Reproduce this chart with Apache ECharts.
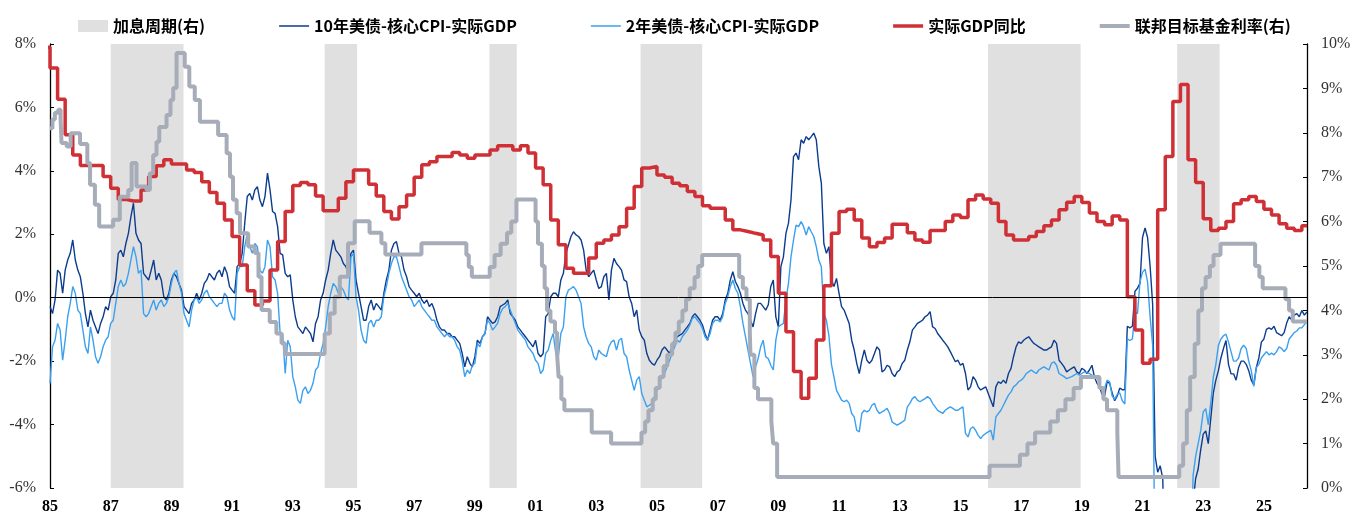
<!DOCTYPE html>
<html>
<head>
<meta charset="utf-8">
<script src="https://cdn.jsdelivr.net/npm/echarts/dist/echarts.min.js"></script>
<style>
html, body { margin: 0; padding: 0; background: #fff; }
#main { width: 1367px; height: 522px; }
</style>
</head>
<body>
<div id="main"></div>
<script>
// ---- data ----
// monthly spreads, first point = Jan 1985
var monthStart = 1985;
var tenYear = [
 -0.28,-0.5,-0.07,0.87,0.77,0.14,0.87,1.19,1.4,1.82,
 1.19,0.87,0.66,0.14,-0.5,-0.92,-0.39,-0.71,-0.92,-1.13,
 -0.81,-0.6,-0.28,-0.39,0.03,0.14,0.56,1.4,1.5,1.29,
 1.71,2.03,2.56,2.98,2.03,1.82,1.71,0.77,0.66,0.56,
 0.87,1.19,0.56,0.77,0.56,0.03,-0.07,0.14,0.56,0.77,
 0.66,0.45,0.24,-0.28,-0.39,-0.5,-0.18,-0.07,0.14,-0.07,
 0.14,0.45,0.56,0.77,0.66,0.56,0.77,0.87,0.66,0.98,
 0.77,0.35,0.24,0.14,0.98,1.08,1.4,2.35,3.19,3.29,
 3.08,3.4,3.5,3.08,2.87,3.19,3.93,3.4,2.72,2.66,
 2.24,1.4,1.35,0.77,0.66,0.72,-0.07,-0.6,-0.92,-1.02,
 -1.13,-0.92,-1.02,-1.13,-1.39,-0.81,-0.6,-0.07,0.14,0.56,
 0.87,1.4,1.82,1.5,1.4,1.29,1.08,0.98,0.77,1.4,
 1.5,0.56,0.14,-0.28,-0.71,-0.71,-0.28,-0.07,-0.39,-0.18,
 -0.28,-0.39,0.14,0.56,0.87,1.5,1.71,1.77,1.4,1.29,
 0.87,0.66,0.35,0.24,0.14,0.03,0.14,-0.07,-0.18,-0.07,
 -0.28,-0.18,-0.39,-0.71,-0.92,-1.02,-1.02,-1.13,-1.13,-1.23,
 -1.23,-1.34,-1.44,-1.76,-2.18,-1.86,-2.07,-2.18,-1.86,-1.34,
 -1.44,-1.23,-1.13,-0.6,-0.71,-0.81,-0.76,-0.6,-0.28,-0.23,
 -0.18,-0.07,-0.5,-0.6,-0.71,-0.92,-1.02,-1.13,-1.23,-1.34,
 -1.44,-1.55,-1.34,-1.76,-1.86,-1.76,-0.6,-0.5,0.03,0.14,
 0.14,0.03,0.56,0.77,1.4,1.66,1.93,2.08,1.98,1.93,
 1.82,1.5,0.87,0.66,0.77,0.87,0.56,0.29,0.35,0.66,
 0.77,-0.07,0.87,1.24,1.08,0.98,0.87,0.56,0.51,0.03,
 -0.18,-0.6,-0.39,-1.02,-1.23,-1.34,-1.76,-1.97,-2.07,-2.13,
 -1.97,-1.86,-1.65,-1.55,-1.65,-1.76,-1.55,-1.34,-1.23,-1.18,
 -1.13,-1.02,-0.92,-0.81,-0.6,-0.5,-0.6,-0.71,-0.86,-1.13,
 -1.34,-1.02,-0.71,-0.6,-0.6,-0.71,-0.5,-0.07,0.14,0.56,
 0.82,0.51,0.35,0.14,-0.18,-0.39,-0.5,-0.71,-0.92,-0.5,
 -0.18,-0.18,-0.28,-0.39,-0.23,0.35,0.56,-0.6,-0.92,0.98,
 1.29,2.03,2.35,3.08,4.45,4.56,4.35,4.98,4.87,5.08,
 4.98,5.08,5.19,4.98,4.14,3.61,1.71,1.4,1.61,0.56,
 0.35,0.61,0.14,-0.28,-0.39,-0.6,-0.81,-1.34,-1.65,-2.07,
 -2.39,-1.97,-1.65,-1.97,-2.07,-1.97,-1.76,-1.55,-1.65,-2.34,
 -2.28,-2.13,-2.18,-2.39,-2.49,-2.34,-2.28,-2.07,-1.97,-1.65,
 -1.39,-1.02,-0.92,-0.81,-0.76,-0.71,-0.6,-0.55,-0.44,-0.92,
 -0.97,-1.13,-1.23,-1.34,-1.44,-1.55,-1.7,-1.86,-2.02,-1.97,
 -2.13,-2.07,-2.39,-2.91,-2.81,-2.49,-2.6,-2.81,-2.91,-2.86,
 -2.81,-3.02,-3.23,-3.44,-2.81,-2.65,-2.7,-2.6,-2.7,-2.39,
 -2.23,-1.86,-1.55,-1.39,-1.44,-1.34,-1.28,-1.23,-1.34,-1.44,
 -1.49,-1.55,-1.6,-1.65,-1.65,-1.6,-1.55,-1.34,-1.44,-1.97,
 -2.07,-2.18,-2.34,-2.28,-2.23,-2.18,-2.34,-2.39,-2.23,-2.28,
 -2.39,-2.28,-2.13,-2.5,-2.7,-2.8,-3.05,-3.1,-2.65,-2.7,
 -3.0,-3.25,-3.1,-2.85,-2.9,-2.9,-0.9,-0.95,-0.9,0.2,
 0.3,0.45,1.9,2.2,1.9,1.0,-0.2,-5.0,-5.5,-5.3,
 -5.7,-9,-9,-9,-9,-9,-9,-9,-9,-9,
 -9,-9,-6.5,-5.7,-5.4,-4.8,-4.3,-4.2,-4.6,-3.8,
 -3.0,-2.6,-2.3,-1.9,-1.6,-1.35,-2.1,-2.4,-2.4,-2.6,
 -2.2,-2.0,-2.0,-2.1,-2.3,-2.6,-2.75,-2.2,-1.9,-1.4,
 -1.3,-1.0,-0.95,-1.0,-0.9,-1.1,-1.15,-1.2,-1.1,-0.8,
 -0.6,-0.7,-0.55,-0.5,-0.6,-0.4,-0.55,-0.45
];
var twoYear = [
 -2.7,-1.55,-1.34,-0.81,-1.02,-1.97,-1.34,-0.6,-0.18,0.35,
 0.14,-0.39,-0.5,-1.02,-1.55,-1.76,-0.92,-1.34,-1.86,-2.07,
 -1.86,-1.55,-1.34,-1.23,-0.81,-0.71,-0.18,0.35,0.56,0.35,
 0.45,0.77,1.19,1.61,1.29,0.77,0.87,-0.5,-0.6,-0.5,
 -0.28,-0.07,-0.39,-0.18,-0.07,-0.28,-0.18,0.03,0.45,0.77,
 0.87,0.45,0.14,-0.5,-0.71,-0.92,-0.39,-0.07,0.03,-0.18,
 -0.07,0.14,0.24,0.03,-0.07,-0.18,-0.28,-0.18,-0.18,0.14,
 0.03,-0.39,-0.6,-0.71,0.77,0.98,0.98,1.61,2.03,1.61,
 1.4,1.71,1.61,0.87,0.77,0.98,1.82,1.61,0.66,0.56,
 0.14,-1.13,-1.13,-2.39,-1.34,-1.55,-2.49,-2.81,-3.23,-3.33,
 -2.92,-2.81,-3.02,-2.92,-2.7,-2.28,-2.18,-1.76,-1.44,-0.92,
 -0.28,0.14,0.45,0.35,0.14,0.35,0.24,0.03,-0.07,1.29,
 1.4,0.03,-0.39,-1.02,-1.34,-1.44,-0.81,-0.71,-0.92,-0.71,
 -0.71,-0.6,0.03,0.35,0.77,1.08,1.29,1.29,0.98,0.66,
 0.45,0.24,0.03,-0.07,-0.28,-0.18,-0.07,-0.28,-0.39,-0.5,
 -0.6,-0.71,-0.71,-0.92,-1.02,-1.13,-1.23,-1.13,-1.23,-1.23,
 -1.34,-1.55,-1.65,-2.0,-2.49,-2.28,-2.39,-2.13,-2.07,-1.44,
 -1.55,-1.23,-1.13,-0.71,-0.81,-1.02,-0.92,-0.81,-0.5,-0.34,
 -0.28,-0.18,-0.39,-0.6,-0.81,-1.02,-1.13,-1.23,-1.34,-1.55,
 -1.65,-1.76,-1.97,-2.07,-2.39,-2.28,-1.76,-1.65,-1.34,-1.13,
 -1.76,-1.86,-1.13,-0.92,0.03,0.24,0.29,0.35,0.24,0.03,
 -0.18,-0.92,-1.23,-1.44,-1.55,-1.86,-1.97,-1.65,-1.76,-1.81,
 -1.86,-1.55,-1.39,-1.34,-1.65,-1.34,-1.28,-1.76,-1.86,-2.28,
 -2.6,-2.92,-2.6,-2.49,-3.02,-3.23,-3.44,-3.39,-3.33,-3.12,
 -2.92,-2.7,-2.49,-2.39,-2.18,-1.97,-1.76,-1.55,-1.34,-1.4,
 -1.23,-1.13,-1.02,-0.86,-0.65,-0.6,-0.71,-0.81,-0.97,-1.23,
 -1.34,-1.13,-0.81,-0.71,-0.71,-0.76,-0.6,-0.18,0.03,0.35,
 0.56,0.29,0.14,-0.28,-0.81,-1.23,-1.65,-2.07,-2.49,-2.18,
 -1.92,-1.55,-1.34,-1.86,-1.92,-2.13,-2.28,-1.34,-0.92,-0.86,
 -0.81,-0.07,0.45,1.29,1.82,2.29,2.24,2.4,2.24,1.98,
 2.24,2.08,1.93,1.61,1.19,0.98,-0.5,-0.71,-1.2,-2.1,
 -2.5,-2.92,-3.07,-3.23,-3.28,-3.23,-3.33,-3.65,-3.76,-4.18,
 -4.23,-3.65,-3.55,-3.6,-3.55,-3.39,-3.33,-3.55,-3.65,-3.6,
 -3.55,-3.49,-3.65,-3.92,-3.97,-4.02,-3.97,-3.92,-3.86,-3.44,
 -3.33,-3.18,-3.12,-3.23,-3.28,-3.23,-3.18,-3.12,-3.18,-3.33,
 -3.44,-3.55,-3.6,-3.65,-3.55,-3.49,-3.44,-3.49,-3.55,-3.55,
 -3.49,-3.44,-4.28,-4.39,-4.13,-4.07,-4.18,-4.34,-4.44,-4.34,
 -4.28,-4.23,-4.18,-4.49,-3.76,-3.65,-3.55,-3.39,-3.23,-3.07,
 -2.97,-2.81,-2.75,-2.65,-2.6,-2.52,-2.39,-2.34,-2.28,-2.34,
 -2.39,-2.28,-2.23,-2.18,-2.23,-2.28,-2.07,-2.02,-2.13,-2.39,
 -2.44,-2.49,-2.55,-2.52,-2.49,-2.44,-2.39,-2.44,-2.39,-2.34,
 -2.37,-2.39,-2.44,-2.45,-2.5,-2.7,-2.95,-2.85,-2.6,-2.65,
 -3.1,-3.2,-3.05,-3.0,-3.25,-3.35,-1.3,-1.35,-1.3,-0.45,
 -0.5,0.5,0.8,0.9,0.5,-0.6,-1.5,-9,-9,-9,
 -9,-9,-9,-9,-9,-9,-9,-9,-9,-9,
 -9,-9,-5.6,-5.0,-4.6,-4.2,-3.6,-3.5,-4.0,-3.3,
 -2.5,-2.1,-1.5,-1.3,-1.2,-1.15,-1.4,-1.7,-2.0,-2.0,
 -1.9,-1.6,-1.5,-1.6,-2.0,-2.3,-2.8,-2.2,-2.1,-1.9,
 -1.8,-1.7,-1.8,-1.75,-1.8,-1.7,-1.55,-1.6,-1.7,-1.6,
 -1.3,-1.2,-1.1,-1.05,-0.95,-0.95,-0.85,-0.75
];

// quarterly real GDP yoy, first value = 1984Q4
var gdpStart = 1984.75;
var gdpYoY = [
 7.9,
 7.24,6.26,5.14,4.5, 4.17,4.17,4.17,3.82, 3.45,3.1,3.05,3.05, 3.4,3.82,4.16,4.35,
 4.22,4.22,4.03,3.95, 3.66,3.32,2.98,2.45, 1.93,1.03,0.22,-0.23, -0.1,0.87,1.77,2.72,
 3.54,3.63,3.56,3.21, 2.74,2.74,3.14,3.66, 4.03,4.03,3.58,3.21, 2.72,2.48,2.87,3.24,
 3.8,4.19,4.29,4.45, 4.45,4.58,4.5,4.4, 4.5,4.5,4.66,4.79, 4.79,4.66,4.79,4.56,
 4.09,3.56,2.45,1.67, 0.93,0.77,0.77,1.25, 1.72,1.82,1.98,2.24, 2.82,3.51,4.09,4.14,
 3.87,3.8,3.61,3.53, 3.35,3.19,2.9,2.82, 2.82,2.45,2.14,2.09, 2.03,1.98,1.82,1.3,
 0.14,-1.07,-2.33,-3.17, -2.54,-1.33,0.38,2.03, 2.72,2.79,2.45,1.88, 1.61,1.74,1.88,2.32,
 2.32,2.05,1.82,1.75, 2.12,2.12,2.4,2.61, 2.53,3.09,3.24,3.11, 2.98,2.4,1.98,1.82,
 1.82,1.93,2.09,2.27, 2.45,2.77,3.01,3.19, 3.0,2.67,2.4,2.3, 2.58,2.45,0.03,-1.02,
 -2.07,-1.94,2.77,4.45, 6.19,6.72,4.35,3.63, 2.49,2.12,2.19,2.4, 2.96,3.09,3.19,3.03,
 2.79,2.61,2.33,2.19, 2.12,2.27
];

// fed funds target (right axis): change dates and new level
var fedDates = [
 1985.00,1985.08,1985.16,1985.27,1985.35,1985.38,1985.55,1985.68,1985.99,
 1986.23,1986.32,1986.48,1986.62,1987.08,1987.30,1987.58,1987.69,1987.85,
 1988.18,1988.29,1988.40,1988.51,1988.60,1988.84,1988.97,1989.06,1989.17,
 1989.44,1989.59,1989.77,1989.94,1990.54,1990.82,1990.93,1991.03,1991.15,
 1991.26,1991.53,1991.75,1991.87,1991.97,1992.24,1992.46,1992.63,1992.74,
 1994.05,1994.22,1994.38,1994.55,1994.82,1995.04,1995.53,1995.92,1996.05,
 1997.24,1998.72,1998.80,1998.90,1999.49,1999.65,1999.85,2000.06,2000.20,
 2000.37,2001.00,2001.08,2001.21,2001.30,2001.38,2001.49,2001.64,2001.71,
 2001.76,2001.85,2001.95,2002.85,2003.49,2004.49,2004.61,2004.72,2004.86,
 2004.96,2005.09,2005.22,2005.34,2005.50,2005.61,2005.72,2005.84,2005.96,
 2006.08,2006.24,2006.36,2006.49,2007.71,2007.83,2007.95,2008.06,2008.08,
 2008.21,2008.33,2008.77,2008.83,2008.96,2015.96,2016.96,2017.21,2017.46,
 2017.96,2018.21,2018.46,2018.73,2018.97,2019.58,2019.71,2019.83,2020.17,
 2020.21,2022.21,2022.34,2022.46,2022.57,2022.72,2022.84,2022.96,2023.08,
 2023.22,2023.34,2023.57,2024.71,2024.85,2024.96,2025.71,2025.83,2025.95
];
var fedRate = [
 8.10,8.30,8.45,8.52,8.29,7.77,7.69,7.99,7.75,
 7.32,6.83,6.38,5.89,6.04,6.56,6.71,7.32,6.79,
 6.71,7.09,7.50,7.80,8.13,8.40,8.74,9.01,9.80,
 9.49,9.04,8.74,8.25,7.95,7.54,7.01,6.49,6.19,
 5.74,5.44,5.29,4.76,4.01,3.74,3.48,3.26,3.02,
 3.48,3.93,4.31,4.76,5.51,6.01,5.75,5.51,5.26,
 5.51,5.25,4.98,4.76,4.98,5.25,5.50,5.75,6.00,
 6.50,6.00,5.50,5.00,4.50,4.00,3.75,3.50,3.00,
 2.50,2.00,1.75,1.25,1.00,1.25,1.50,1.75,2.00,
 2.25,2.50,2.75,3.00,3.25,3.50,3.75,4.00,4.25,
 4.50,4.75,5.00,5.25,4.75,4.50,4.25,3.50,3.00,
 2.25,2.00,1.50,1.00,0.25,0.50,0.75,1.00,1.25,
 1.50,1.75,2.00,2.25,2.50,2.25,2.00,1.75,1.25,
 0.25,0.50,1.00,1.75,2.50,3.25,4.00,4.50,4.75,
 5.00,5.25,5.50,5.00,4.75,4.50,4.25,4.00,3.75
];

// rate hike cycles (shaded)
var hikeStart = [1987.00, 1994.05, 1999.48, 2004.46, 2015.91, 2022.14];
var hikeEnd   = [1989.40, 1995.12, 2000.38, 2006.49, 2018.96, 2023.54];

var xMin = 1985, xMax = 2026.42;

// ---- build series ----
var tenData = tenYear.map(function (v, i) { return [monthStart + i / 12, v]; });
var twoData = twoYear.map(function (v, i) { return [monthStart + i / 12, v]; });
var gdpData = gdpYoY.map(function (v, i) { return [gdpStart + i * 0.25, v]; });
gdpData.push([xMax, gdpYoY[gdpYoY.length - 1]]);
var fedData = fedDates.map(function (d, i) { return [d, fedRate[i]]; });
fedData.push([xMax, fedRate[fedRate.length - 1]]);

var hikeAreas = [];
for (var i = 0; i < hikeStart.length; i++) {
  hikeAreas.push([{ xAxis: hikeStart[i] }, { xAxis: hikeEnd[i] }]);
}

var serif = 'Liberation Serif';
var sans = 'Noto Sans CJK SC';

// flat bar icons for the line legend items (thickness ~ line width)
var thinIcon = 'path://M0,0H300V15H0Z';
var redIcon = 'path://M0,0H300V35H0Z';
var grayIcon = 'path://M0,0H300V40H0Z';

var chartDom = document.getElementById('main');
var myChart = echarts.init(chartDom);
var option = {
  animation: false,
  backgroundColor: '#fff',
  legend: {
    left: 73,
    top: 13,
    itemGap: 74,
    itemWidth: 30,
    itemHeight: 12,
    textStyle: { fontFamily: sans, fontSize: 16, fontWeight: 'bold', color: '#000' },
    data: [
      { name: '加息周期(右)', icon: 'rect' },
      { name: '10年美债-核心CPI-实际GDP', icon: thinIcon },
      { name: '2年美债-核心CPI-实际GDP', icon: thinIcon },
      { name: '实际GDP同比', icon: redIcon },
      { name: '联邦目标基金利率(右)', icon: grayIcon }
    ]
  },
  grid: { left: 50, top: 44, width: 1257, height: 444 },
  xAxis: {
    type: 'value',
    min: xMin,
    max: xMax,
    interval: 2,
    axisLine: { show: false },
    axisTick: { show: false },
    splitLine: { show: false },
    axisLabel: {
      margin: 11,
      showMaxLabel: false,
      fontFamily: serif, fontSize: 16, fontWeight: 'bold', color: '#000',
      formatter: function (v) {
        var y = Math.round(v) % 100;
        return (y < 10 ? '0' : '') + y;
      }
    }
  },
  yAxis: [
    {
      type: 'value', min: -6, max: 8, interval: 2,
      axisLine: { show: true, lineStyle: { color: '#000', width: 1.3 } },
      axisTick: { show: true, inside: true, length: 4, lineStyle: { color: '#000' } },
      splitLine: { show: false },
      axisLabel: { margin: 14, fontFamily: serif, fontSize: 16, color: '#333', formatter: '{value}%' }
    },
    {
      type: 'value', min: 0, max: 10, interval: 1,
      axisLine: { show: true, lineStyle: { color: '#000', width: 1.3 } },
      axisTick: { show: true, inside: true, length: 4, lineStyle: { color: '#000' } },
      splitLine: { show: false },
      axisLabel: { margin: 14, fontFamily: serif, fontSize: 16, color: '#333', formatter: '{value}%' }
    }
  ],
  series: [
    {
      name: '加息周期(右)',
      type: 'bar',
      yAxisIndex: 1,
      data: [],
      itemStyle: { color: '#e0e0e0' },
      markArea: {
        silent: true,
        itemStyle: { color: '#e0e0e0', opacity: 1 },
        data: hikeAreas
      }
    },
    {
      name: '10年美债-核心CPI-实际GDP',
      type: 'line',
      yAxisIndex: 0,
      symbol: 'none',
      data: tenData,
      lineStyle: { color: '#0c3c8e', width: 1.4 },
      itemStyle: { color: '#0c3c8e' },
      markLine: {
        silent: true,
        symbol: ['none', 'none'],
        label: { show: false },
        lineStyle: { color: '#000', width: 1, type: 'solid' },
        data: [{ yAxis: 0 }]
      }
    },
    {
      name: '2年美债-核心CPI-实际GDP',
      type: 'line',
      yAxisIndex: 0,
      symbol: 'none',
      data: twoData,
      lineStyle: { color: '#3aa0ef', width: 1.4 },
      itemStyle: { color: '#3aa0ef' }
    },
    {
      name: '实际GDP同比',
      type: 'line',
      yAxisIndex: 0,
      symbol: 'none',
      step: 'end',
      data: gdpData,
      lineStyle: { color: '#cf3036', width: 3.5 },
      itemStyle: { color: '#cf3036' }
    },
    {
      name: '联邦目标基金利率(右)',
      type: 'line',
      yAxisIndex: 1,
      symbol: 'none',
      step: 'end',
      data: fedData,
      lineStyle: { color: '#a6acb8', width: 4 },
      itemStyle: { color: '#a6acb8' }
    }
  ]
};
option && myChart.setOption(option);
</script>
</body>
</html>
